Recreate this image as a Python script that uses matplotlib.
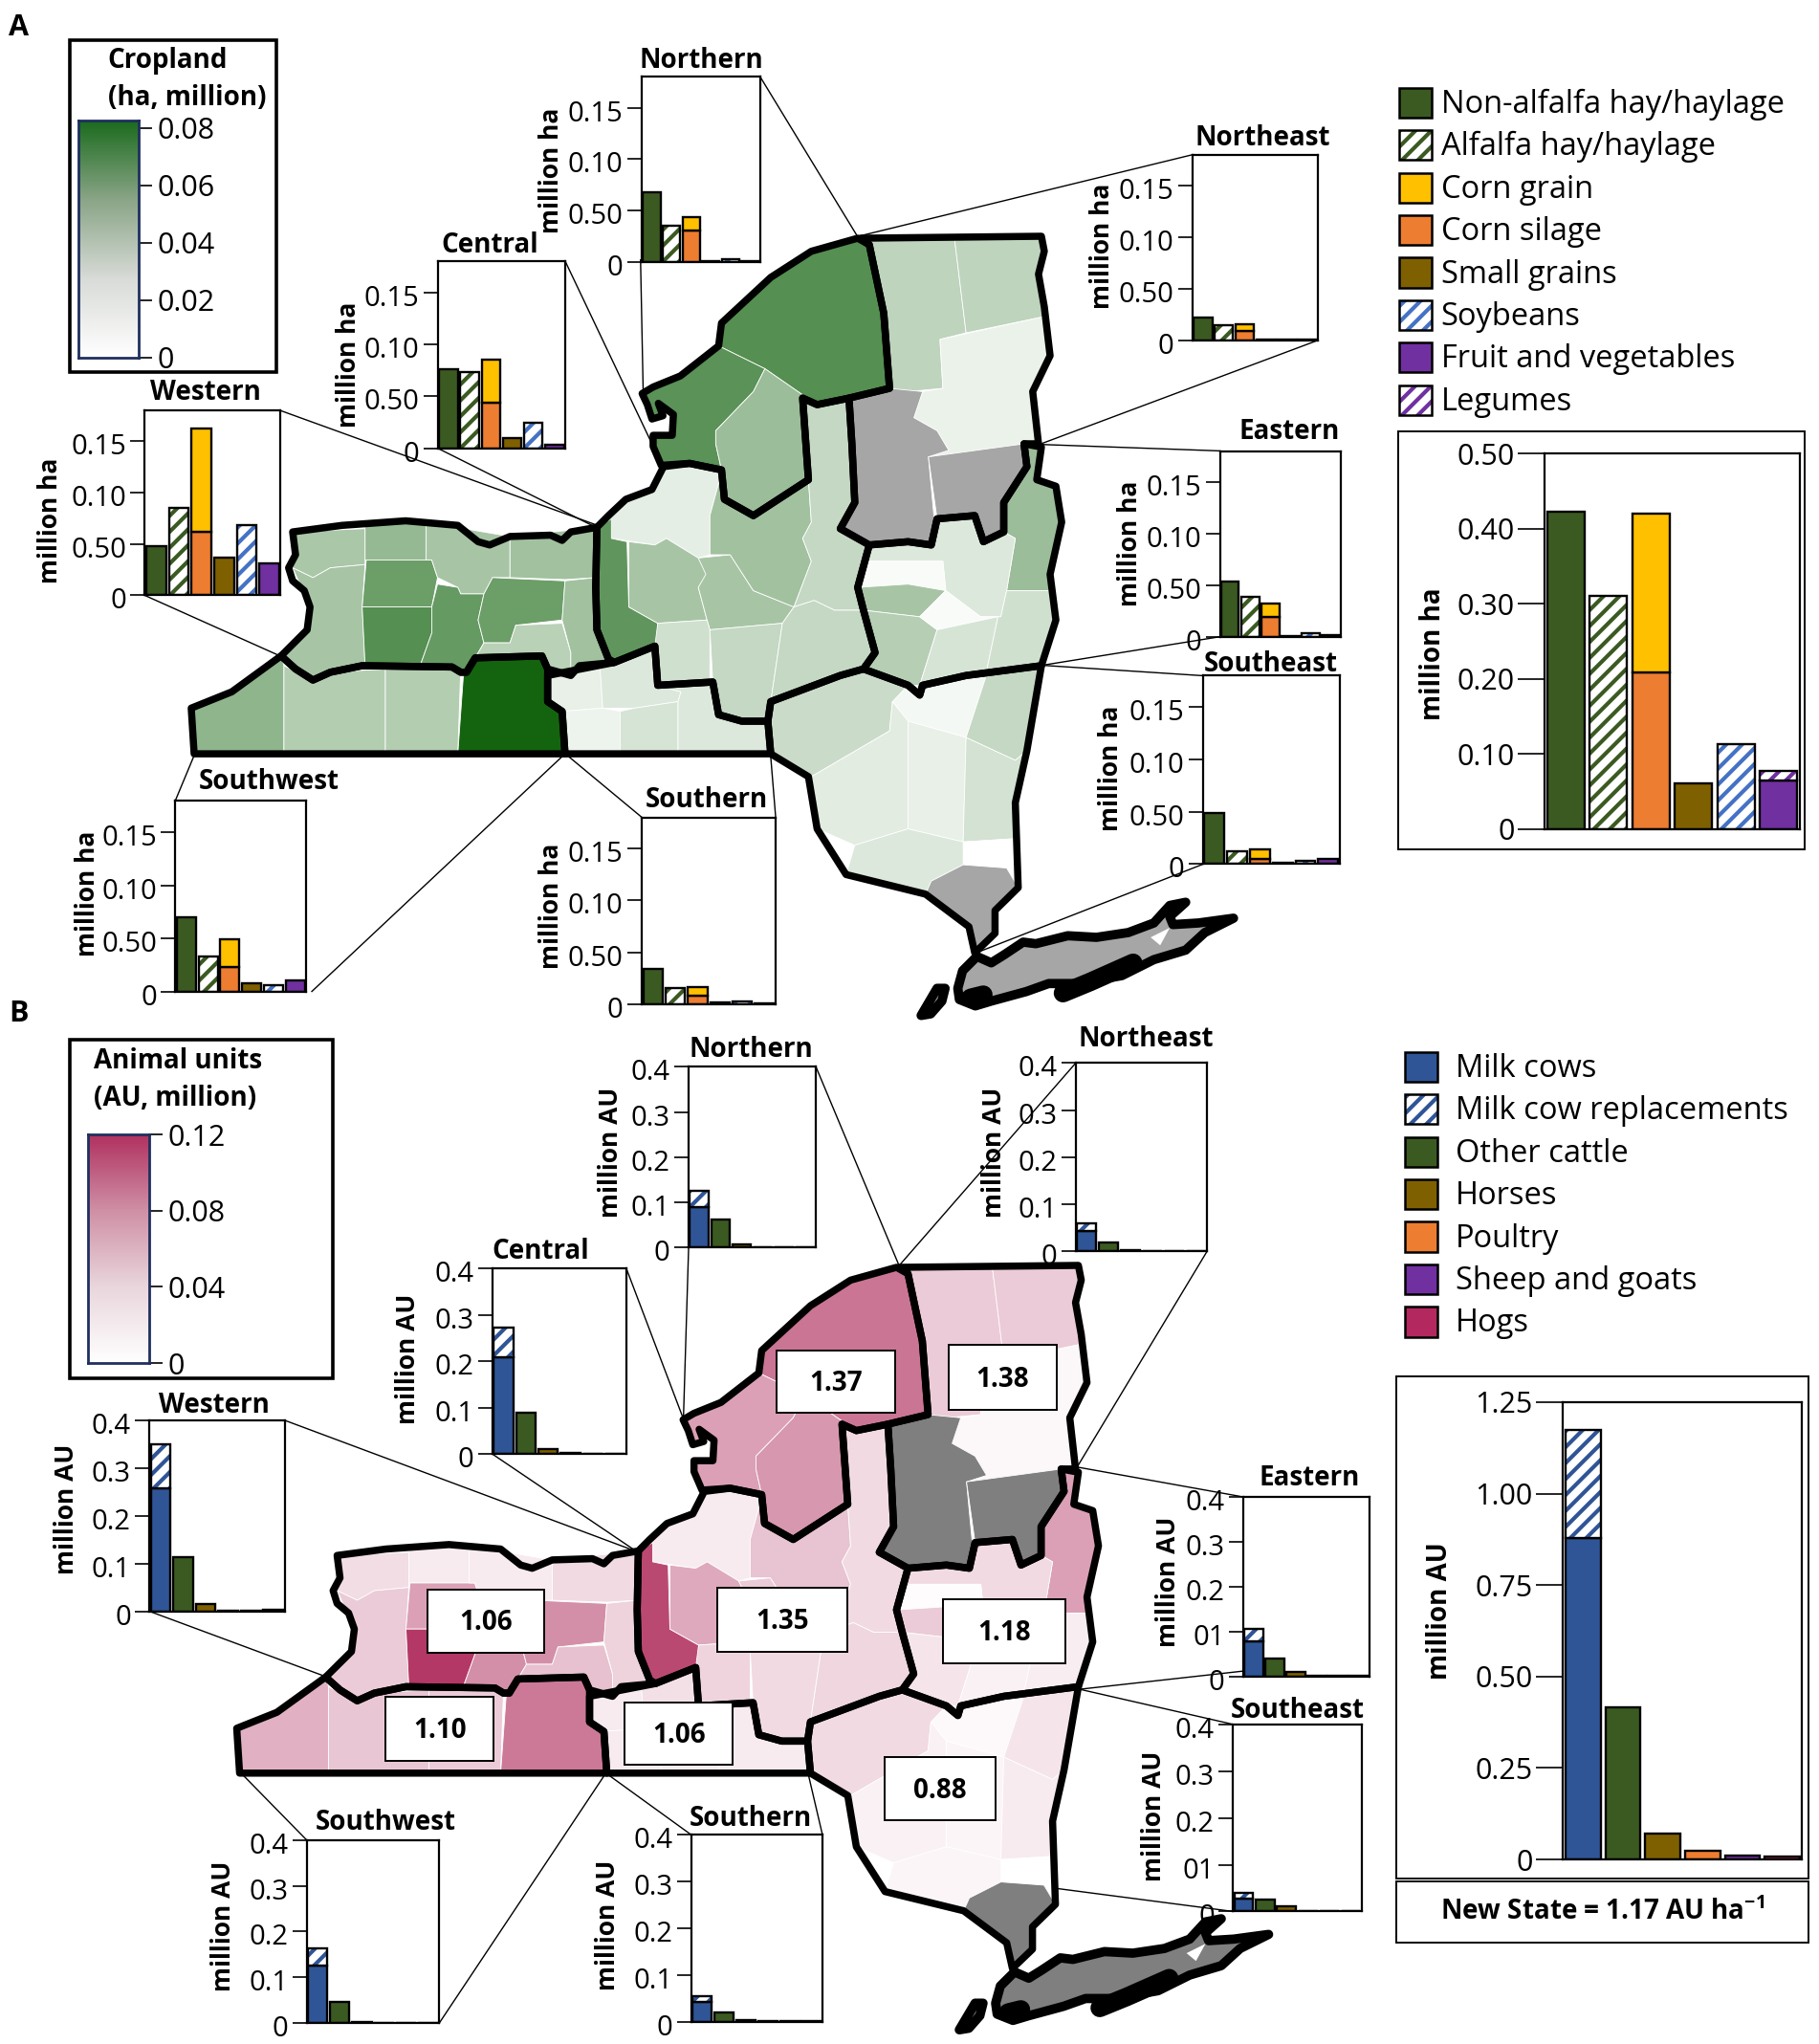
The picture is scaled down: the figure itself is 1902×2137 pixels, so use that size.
import numpy as np
import matplotlib
matplotlib.use('Agg')
import matplotlib.pyplot as plt
from matplotlib.colors import LinearSegmentedColormap
from matplotlib.patches import Polygon, Rectangle
from matplotlib.transforms import ScaledTranslation

plt.rcParams['font.family'] = ['Open Sans', 'DejaVu Sans']
plt.rcParams['mathtext.default'] = 'regular'
plt.rcParams['hatch.linewidth'] = 3.0

W, H = 1400, 1573

# crop area, million ha: non-alfalfa, alfalfa, silage, grain, small grains, soybeans, fruit/veg, legumes
crop_northern = [0.068, 0.036, 0.031, 0.013, 0.001, 0.003, 0.001, 0]
crop_central = [0.076, 0.073, 0.044, 0.041, 0.010, 0.025, 0.003, 0]
crop_western = [0.048, 0.085, 0.062, 0.101, 0.037, 0.068, 0.031, 0]
crop_southwest = [0.070, 0.033, 0.023, 0.026, 0.008, 0.006, 0.010, 0]
crop_southern = [0.034, 0.016, 0.008, 0.009, 0.002, 0.003, 0.001, 0]
crop_northeast = [0.022, 0.015, 0.009, 0.007, 0.001, 0.001, 0.001, 0]
crop_eastern = [0.054, 0.039, 0.019, 0.013, 0.001, 0.003, 0.002, 0]
crop_southeast = [0.049, 0.012, 0.005, 0.009, 0.001, 0.003, 0.005, 0]
crop_state = [0.422, 0.310, 0.209, 0.211, 0.061, 0.113, 0.064, 0.014]

# animal units, million: milk cows, replacements, other cattle, horses, poultry, sheep, hogs
au_northern = [0.090, 0.036, 0.061, 0.006, 0.001, 0.001, 0.001]
au_central = [0.208, 0.064, 0.088, 0.011, 0.003, 0.001, 0.001]
au_western = [0.257, 0.092, 0.114, 0.015, 0.001, 0.002, 0.003]
au_southwest = [0.126, 0.037, 0.047, 0.003, 0.001, 0.001, 0.001]
au_southern = [0.042, 0.014, 0.021, 0.003, 0.001, 0.001, 0.001]
au_northeast = [0.044, 0.015, 0.018, 0.002, 0.001, 0.001, 0.001]
au_eastern = [0.077, 0.028, 0.039, 0.010, 0.001, 0.001, 0.001]
au_southeast = [0.028, 0.011, 0.025, 0.012, 0.001, 0.001, 0.001]
au_state = [0.879, 0.294, 0.416, 0.070, 0.023, 0.011, 0.009]

crop_ticks = [0, 0.05, 0.10, 0.15]
crop_ticklabels = ['0', '0.50', '0.10', '0.15']
state_crop_ticks = [0, 0.1, 0.2, 0.3, 0.4, 0.5]
state_crop_ticklabels = ['0', '0.10', '0.20', '0.30', '0.40', '0.50']
au_ticks = [0, 0.1, 0.2, 0.3, 0.4]
au_ticklabels = ['0', '0.1', '0.2', '0.3', '0.4']
au_ticklabels_typo = ['0', '01', '0.2', '0.3', '0.4']
state_au_ticks = [0, 0.25, 0.5, 0.75, 1.0, 1.25]
state_au_ticklabels = ['0', '0.25', '0.50', '0.75', '1.00', '1.25']

crop_legend = ['Non-alfalfa hay/haylage', 'Alfalfa hay/haylage', 'Corn grain', 'Corn silage',
               'Small grains', 'Soybeans', 'Fruit and vegetables', 'Legumes']
au_legend = ['Milk cows', 'Milk cow replacements', 'Other cattle', 'Horses', 'Poultry',
             'Sheep and goats', 'Hogs']

GREEN, GOLD, ORANGE = '#3b5a21', '#ffc000', '#ed7d31'
BROWN, BLUE, PURPLE, HOG = '#7f6000', '#4472c4', '#7030a0', '#b3295f'
MILK = '#2f5597'

# county outlines (traced from the map) with crop and animal density, None = no data (grey)
counties = [
    ([(505, 815), (630, 810), (630, 865), (570, 870), (540, 885), (505, 870)], 0.029, 0.020),
    ([(540, 885), (570, 870), (630, 865), (625, 930), (630, 1020), (570, 1030), (540, 1042), (485, 1005), (530, 965), (535, 930), (505, 870)], 0.030, 0.030),
    ([(630, 805), (735, 800), (735, 858), (630, 858)], 0.036, 0.012),
    ([(632, 858), (745, 858), (755, 885), (745, 930), (625, 930)], 0.050, 0.055),
    ([(625, 930), (745, 930), (745, 970), (725, 1020), (630, 1020)], 0.058, 0.115),
    ([(735, 800), (880, 822), (880, 885), (850, 885), (835, 910), (795, 910), (790, 900), (755, 885), (745, 858), (735, 858)], 0.030, 0.012),
    ([(755, 895), (790, 900), (795, 910), (835, 910), (825, 950), (835, 985), (820, 1008), (800, 1030), (725, 1020), (745, 970), (745, 930)], 0.052, 0.065),
    ([(850, 885), (975, 890), (970, 950), (890, 958), (880, 985), (835, 985), (825, 950), (835, 910)], 0.050, 0.065),
    ([(880, 822), (1030, 808), (1028, 885), (975, 888), (880, 885)], 0.032, 0.022),
    ([(890, 958), (970, 955), (985, 1000), (985, 1035), (945, 1025), (935, 1005), (820, 1008), (835, 985), (880, 985)], 0.024, 0.036),
    ([(975, 890), (1028, 885), (1030, 965), (1060, 1015), (1000, 1020), (985, 1035), (985, 1000), (970, 950)], 0.032, 0.026),
    ([(485, 1005), (490, 1020), (490, 1155), (335, 1155), (330, 1085), (400, 1060)], 0.038, 0.045),
    ([(490, 1020), (540, 1042), (570, 1030), (665, 1025), (665, 1155), (490, 1155)], 0.026, 0.033),
    ([(665, 1025), (795, 1025), (790, 1155), (665, 1155)], 0.026, 0.030),
    ([(800, 1030), (820, 1008), (935, 1005), (945, 1025), (945, 1075), (970, 1090), (975, 1155), (790, 1155)], 0.080, 0.078),
    ([(945, 1025), (985, 1035), (1000, 1020), (1035, 1015), (1040, 1085), (970, 1090), (945, 1078)], 0.008, 0.012),
    ([(1035, 1015), (1130, 990), (1135, 1050), (1175, 1060), (1170, 1075), (1095, 1085), (1040, 1085)], 0.012, 0.018),
    ([(970, 1090), (1040, 1085), (1070, 1090), (1070, 1155), (975, 1155)], 0.006, 0.012),
    ([(1070, 1090), (1095, 1085), (1170, 1075), (1170, 1155), (1070, 1155)], 0.014, 0.012),
    ([(1135, 1050), (1230, 1045), (1240, 1095), (1280, 1105), (1325, 1105), (1330, 1155), (1170, 1155), (1170, 1075), (1175, 1060)], 0.012, 0.012),
    ([(1050, 790), (1080, 765), (1125, 750), (1145, 715), (1190, 710), (1245, 725), (1225, 790), (1225, 850), (1205, 855), (1150, 825), (1130, 835), (1055, 825)], 0.009, 0.012),
    ([(1030, 808), (1055, 795), (1055, 825), (1082, 830), (1085, 930), (1135, 955), (1135, 990), (1060, 1015), (1050, 1010), (1030, 965), (1028, 900)], 0.054, 0.105),
    ([(1085, 830), (1130, 835), (1150, 825), (1205, 855), (1220, 880), (1205, 900), (1220, 950), (1135, 955), (1085, 930)], 0.030, 0.050),
    ([(1205, 855), (1260, 850), (1300, 905), (1370, 930), (1350, 955), (1225, 965), (1220, 950), (1205, 900), (1218, 880)], 0.030, 0.030),
    ([(1225, 790), (1245, 725), (1250, 765), (1300, 790), (1395, 735), (1400, 800), (1385, 825), (1400, 860), (1370, 930), (1300, 905), (1260, 850), (1225, 850)], 0.032, 0.035),
    ([(1385, 610), (1410, 620), (1465, 610), (1470, 680), (1475, 770), (1450, 810), (1500, 835), (1480, 900), (1490, 935), (1440, 935), (1405, 920), (1370, 930), (1400, 860), (1385, 825), (1400, 800), (1395, 735)], 0.020, 0.022),
    ([(1135, 955), (1220, 950), (1225, 965), (1225, 1045), (1135, 1050), (1130, 990)], 0.016, 0.025),
    ([(1225, 965), (1350, 955), (1330, 1075), (1325, 1105), (1280, 1105), (1240, 1095), (1230, 1045)], 0.020, 0.022),
    ([(1370, 930), (1405, 920), (1440, 935), (1490, 935), (1510, 1000), (1490, 1025), (1450, 1035), (1330, 1075), (1350, 955)], 0.020, 0.024),
    ([(1240, 530), (1245, 495), (1330, 425), (1400, 385), (1480, 365), (1500, 375), (1525, 480), (1535, 595), (1465, 610), (1410, 620), (1385, 605), (1320, 565)], 0.058, 0.080),
    ([(1108, 603), (1127, 593), (1174, 576), (1240, 530), (1320, 565), (1300, 600), (1235, 660), (1235, 680), (1245, 720), (1190, 710), (1141, 713), (1127, 684), (1127, 667), (1160, 667), (1162, 635), (1136, 618), (1144, 637), (1125, 642), (1117, 620)], 0.056, 0.055),
    ([(1320, 565), (1385, 605), (1395, 735), (1300, 790), (1250, 765), (1245, 720), (1235, 680), (1235, 660), (1300, 600)], 0.034, 0.060),
    ([(1485, 365), (1647, 365), (1667, 510), (1622, 520), (1627, 595), (1567, 600), (1535, 595), (1525, 480), (1500, 375)], 0.022, 0.030),
    ([(1647, 365), (1797, 362), (1802, 385), (1792, 420), (1802, 485), (1667, 510)], 0.022, 0.030),
    ([(1622, 520), (1802, 485), (1812, 545), (1782, 600), (1792, 680), (1602, 700), (1637, 690), (1617, 660), (1577, 640), (1592, 600), (1627, 595)], 0.007, 0.005),
    ([(1465, 610), (1535, 595), (1592, 600), (1577, 640), (1617, 660), (1637, 690), (1602, 700), (1612, 795), (1607, 835), (1500, 835), (1450, 810), (1475, 770), (1470, 680)], None, None),
    ([(1602, 700), (1767, 680), (1772, 715), (1732, 770), (1732, 815), (1697, 830), (1682, 790), (1617, 795)], None, None),
    ([(1767, 680), (1797, 685), (1789, 735), (1822, 745), (1832, 800), (1812, 905), (1737, 905), (1752, 825), (1732, 815), (1732, 770), (1772, 715)], 0.034, 0.055),
    ([(1500, 835), (1607, 835), (1617, 795), (1682, 790), (1697, 830), (1732, 815), (1752, 825), (1737, 905), (1727, 945), (1692, 945), (1632, 905), (1627, 860), (1490, 860)], 0.012, 0.022),
    ([(1490, 860), (1627, 860), (1632, 905), (1567, 895), (1480, 900)], 0.002, 0.002),
    ([(1480, 900), (1567, 895), (1632, 905), (1587, 945), (1490, 935)], 0.030, 0.030),
    ([(1490, 935), (1587, 945), (1617, 965), (1587, 1050), (1567, 1050), (1490, 1025), (1510, 1000)], 0.025, 0.015),
    ([(1632, 905), (1692, 945), (1722, 945), (1617, 965), (1587, 945)], 0.002, 0.010),
    ([(1617, 965), (1722, 945), (1702, 1030), (1592, 1050), (1587, 1050)], 0.014, 0.008),
    ([(1737, 905), (1812, 905), (1822, 950), (1797, 1020), (1702, 1030), (1722, 945), (1727, 945)], 0.016, 0.010),
    ([(1567, 1050), (1587, 1065), (1592, 1050), (1667, 1035), (1702, 1035), (1667, 1130), (1567, 1105), (1540, 1075)], 0.004, 0.004),
    ([(1702, 1035), (1797, 1020), (1772, 1150), (1752, 1165), (1667, 1130)], 0.020, 0.015),
    ([(1330, 1075), (1450, 1035), (1490, 1025), (1567, 1050), (1540, 1075), (1535, 1120), (1400, 1190), (1395, 1190), (1330, 1155), (1325, 1105)], 0.018, 0.022),
    ([(1400, 1190), (1535, 1120), (1540, 1075), (1567, 1105), (1567, 1270), (1475, 1295), (1410, 1270)], 0.010, 0.008),
    ([(1567, 1105), (1667, 1130), (1662, 1290), (1567, 1270)], 0.008, 0.006),
    ([(1667, 1130), (1752, 1165), (1772, 1150), (1752, 1230), (1752, 1285), (1662, 1290)], 0.015, 0.012),
    ([(1662, 1290), (1752, 1285), (1757, 1330), (1662, 1325)], 0.0, 0.0),
    ([(1475, 1295), (1567, 1270), (1662, 1290), (1662, 1325), (1607, 1350), (1597, 1370), (1460, 1340)], 0.012, 0.006),
    ([(1597, 1370), (1607, 1350), (1662, 1325), (1737, 1330), (1757, 1360), (1717, 1395), (1717, 1430), (1682, 1460), (1672, 1420)], None, None),
]

regions = [
    [(505, 815), (590, 805), (700, 798), (790, 805), (825, 830), (845, 835), (880, 822), (950, 820), (970, 828), (985, 815), (1030, 808), (1028, 900), (1030, 965), (1050, 1010), (1060, 1015), (1000, 1020), (985, 1035), (945, 1025), (935, 1005), (820, 1008), (805, 1030), (795, 1030), (780, 1022), (625, 1020), (570, 1030), (540, 1042), (510, 1025), (485, 1005), (530, 965), (535, 930), (525, 905), (505, 890), (498, 870), (510, 850)],
    [(330, 1085), (400, 1060), (485, 1005), (510, 1025), (540, 1042), (570, 1030), (625, 1020), (780, 1022), (795, 1030), (805, 1030), (820, 1008), (935, 1005), (945, 1025), (945, 1075), (970, 1090), (975, 1155), (335, 1155)],
    [(945, 1035), (1060, 1015), (1130, 990), (1135, 1050), (1230, 1045), (1240, 1095), (1280, 1105), (1325, 1105), (1330, 1155), (975, 1155), (970, 1090), (945, 1075)],
    [(1030, 808), (1050, 790), (1080, 765), (1125, 750), (1145, 715), (1190, 710), (1245, 720), (1250, 765), (1300, 790), (1395, 735), (1385, 610), (1410, 620), (1465, 610), (1470, 680), (1475, 770), (1450, 810), (1500, 835), (1480, 900), (1490, 935), (1510, 1000), (1490, 1025), (1450, 1035), (1330, 1075), (1325, 1105), (1280, 1105), (1240, 1095), (1230, 1045), (1135, 1050), (1130, 990), (1060, 1015), (1050, 1010), (1030, 965), (1028, 900)],
    [(1108, 603), (1127, 593), (1174, 576), (1240, 530), (1245, 495), (1330, 425), (1400, 385), (1480, 365), (1500, 375), (1525, 480), (1535, 595), (1465, 610), (1410, 620), (1385, 610), (1395, 735), (1300, 790), (1250, 765), (1245, 720), (1190, 710), (1141, 713), (1127, 684), (1127, 667), (1160, 667), (1162, 635), (1136, 618), (1144, 637), (1125, 642), (1117, 620)],
    [(1485, 365), (1797, 362), (1802, 385), (1792, 420), (1802, 470), (1812, 545), (1782, 600), (1792, 680), (1767, 680), (1772, 715), (1732, 770), (1732, 815), (1697, 830), (1682, 790), (1617, 795), (1607, 835), (1567, 830), (1500, 835), (1450, 810), (1475, 770), (1470, 680), (1465, 610), (1535, 595), (1525, 480), (1500, 375)],
    [(1767, 680), (1797, 685), (1789, 735), (1822, 745), (1832, 800), (1812, 880), (1822, 950), (1797, 1020), (1667, 1035), (1592, 1050), (1587, 1065), (1567, 1050), (1490, 1025), (1510, 1000), (1490, 935), (1480, 900), (1500, 835), (1567, 830), (1607, 835), (1617, 795), (1682, 790), (1697, 830), (1732, 815), (1732, 770), (1772, 715)],
    [(1330, 1075), (1450, 1035), (1490, 1025), (1567, 1050), (1587, 1065), (1592, 1050), (1667, 1035), (1797, 1020), (1772, 1150), (1752, 1230), (1757, 1360), (1717, 1395), (1717, 1430), (1682, 1460), (1672, 1420), (1597, 1370), (1460, 1340), (1410, 1270), (1395, 1190), (1330, 1155), (1325, 1105)],
]


def crop_to_map(pts):
    # points traced on a 3x crop of the island area, same units as the county outlines
    return [((940 + x / 3) * 1.65, (900 + y / 3) * 1.4655) for x, y in pts]


long_island = crop_to_map([(185, 400), (200, 345), (245, 300), (290, 320), (330, 295), (390, 255), (430, 260), (530, 235), (620, 240), (720, 225), (800, 195), (850, 140), (900, 130), (850, 175), (860, 200), (940, 195), (1050, 180), (960, 225), (900, 280), (800, 310), (700, 360), (560, 385), (470, 385), (400, 410), (290, 440), (240, 455), (190, 435)])
peconic_bay = crop_to_map([(790, 240), (850, 210), (820, 265)])
fire_island = crop_to_map([(515, 415), (600, 380), (735, 320)])
jamaica_bay = crop_to_map([(225, 430), (265, 420)])
staten_island = crop_to_map([(70, 485), (120, 400), (145, 400), (135, 440), (100, 480)])

fig = plt.figure(figsize=(19.02, 21.37), dpi=100)
base = fig.add_axes([0, 0, 1, 1])
base.set_xlim(0, W)
base.set_ylim(H, 0)
base.axis('off')


def map_a(pts):
    p = np.array(pts, dtype=float)
    return np.c_[p[:, 0] / 2.242, p[:, 1] / 1.991]


def map_b(pts):
    p = map_a(pts)
    return np.c_[183 + (p[:, 0] - 148) * 0.99, 974 + (p[:, 1] - 182) * 0.981]


def draw_map(to_xy, col, cmap, vmax, grey):
    for c in counties:
        v = c[col]
        color = grey if v is None else cmap(v / vmax)
        base.add_patch(Polygon(to_xy(c[0]), closed=True, facecolor=color, edgecolor='white', lw=0.6, zorder=1))
    for r in regions:
        base.add_patch(Polygon(to_xy(r), closed=True, fill=False, edgecolor='black', lw=5.4, joinstyle='round', zorder=3))
    for island in (long_island, staten_island):
        base.add_patch(Polygon(to_xy(island), closed=True, facecolor=grey, edgecolor='black', lw=7, joinstyle='round', zorder=3))
    base.add_patch(Polygon(to_xy(peconic_bay), closed=True, facecolor='white', edgecolor='none', zorder=3))
    for line, lw in ((fire_island, 14), (jamaica_bay, 14)):
        xy = to_xy(line)
        base.plot(xy[:, 0], xy[:, 1], color='black', lw=lw, solid_capstyle='round', zorder=3)


def inset(box, ymax, ticks, labels, fs=21, drop=3):
    x0, y0, x1, y1 = box
    ax = fig.add_axes([x0 / W, 1 - y1 / H, (x1 - x0) / W, (y1 - y0) / H], zorder=5)
    ax.set_xlim(-0.5, 5.5)
    ax.set_ylim(0, ymax)
    ax.set_xticks([])
    ax.set_yticks(ticks)
    ax.set_yticklabels(labels, fontsize=fs)
    ax.tick_params(axis='y', length=11, width=1.2, pad=3)
    for s in ax.spines.values():
        s.set_linewidth(1.6)
    shift = ScaledTranslation(0, -drop / 100, fig.dpi_scale_trans)
    for t in ax.get_yticklabels():
        t.set_transform(t.get_transform() + shift)
    return ax


def solid(ax, x, h, bottom, color, lw=1.7):
    ax.bar(x, h, 0.88, bottom=bottom, color=color, edgecolor='black', linewidth=lw)


def striped(ax, x, h, bottom, color, lw=1.7):
    ax.bar(x, h, 0.88, bottom=bottom, facecolor='white', edgecolor=color, hatch='//', linewidth=0)
    ax.bar(x, h, 0.88, bottom=bottom, fill=False, edgecolor='black', linewidth=lw)


def crop_bars(ax, v):
    solid(ax, 0, v[0], 0, GREEN)
    striped(ax, 1, v[1], 0, GREEN)
    solid(ax, 2, v[2], 0, ORANGE)
    solid(ax, 2, v[3], v[2], GOLD)
    solid(ax, 3, v[4], 0, BROWN)
    striped(ax, 4, v[5], 0, BLUE)
    solid(ax, 5, v[6], 0, PURPLE)
    if v[7] > 0:
        striped(ax, 5, v[7], v[6], PURPLE)


def au_bars(ax, v):
    solid(ax, 0, v[0], 0, MILK)
    striped(ax, 0, v[1], v[0], MILK)
    solid(ax, 1, v[2], 0, GREEN)
    solid(ax, 2, v[3], 0, BROWN)
    solid(ax, 3, v[4], 0, ORANGE)
    solid(ax, 4, v[5], 0, PURPLE)
    solid(ax, 5, v[6], 0, HOG)


def swatch(x, y, color, hatched=False):
    w, h = 25, 23
    if hatched:
        base.add_patch(Rectangle((x, y - h / 2), w, h, facecolor='white', edgecolor=color, hatch='//', lw=0))
        base.add_patch(Rectangle((x, y - h / 2), w, h, fill=False, edgecolor='black', lw=1.8))
    else:
        base.add_patch(Rectangle((x, y - h / 2), w, h, facecolor=color, edgecolor='black', lw=1.8))


def label(x, y, s, fs=20, rot=0, weight='bold', ha='center'):
    base.text(x, y + 1.5, s, fontsize=fs, fontweight=weight, rotation=rot, ha=ha, va='center', zorder=6)


def colorbar(box, colors, vmax, ticks, labels):
    x0, y0, x1, y1 = box
    ax = fig.add_axes([x0 / W, 1 - y1 / H, (x1 - x0) / W, (y1 - y0) / H], zorder=5)
    cm = LinearSegmentedColormap.from_list('bar', colors)
    ax.imshow(np.linspace(1, 0, 256)[:, None], aspect='auto', cmap=cm, extent=[0, 1, 0, vmax])
    ax.set_xticks([])
    ax.yaxis.tick_right()
    ax.set_yticks(ticks)
    ax.set_yticklabels(labels, fontsize=22)
    ax.tick_params(axis='y', length=10, width=1.2, pad=4)
    for s in ax.spines.values():
        s.set_linewidth(2)
        s.set_edgecolor('#1f2f5f')


def connect(segments):
    for a, b in segments:
        base.plot([a[0], b[0]], [a[1], b[1]], color='black', lw=1.0, zorder=4)


# panel A
green_map = LinearSegmentedColormap.from_list('g', ['#ffffff', '#14640f'])
draw_map(map_a, 1, green_map, 0.08, '#a6a6a6')

connect([((585, 59), (660, 182)), ((493, 200), (495, 300)),
         ((435, 201), (502, 342)), ((337, 345), (459, 406)),
         ((216, 316), (459, 404)), ((111, 458), (216, 505)),
         ((135, 616), (150, 580)), ((240, 763), (435, 580)),
         ((494, 629), (435, 580)), ((597, 629), (593, 580)),
         ((918, 119), (660, 182)), ((1014, 262), (800, 342)),
         ((939, 347), (800, 342)), ((939, 490), (802, 512)),
         ((926, 520), (802, 512)), ((926, 665), (752, 733))])

crop_panels = [
    ('Northern', crop_northern, (494, 59, 585, 202), (540, 45), (424, 130)),
    ('Central', crop_central, (337, 201, 435, 345), (377, 187), (268, 279)),
    ('Western', crop_western, (111.5, 316, 216, 458), (158, 301), (39, 399)),
    ('Southwest', crop_southwest, (135, 616, 235.5, 763), (207, 600), (67, 686)),
    ('Southern', crop_southern, (494, 629, 597, 773), (544, 614), (424, 696)),
    ('Northeast', crop_northeast, (918, 119, 1014, 262), (972, 105), (848, 188)),
    ('Eastern', crop_eastern, (939, 347.5, 1032, 490), (992, 331), (870, 417)),
    ('Southeast', crop_southeast, (926, 520, 1031, 665), (978, 510), (855, 590)),
]
for name, vals, box, tpos, ypos in crop_panels:
    ax = inset(box, 0.18, crop_ticks, crop_ticklabels)
    crop_bars(ax, vals)
    label(tpos[0], tpos[1], name)
    label(ypos[0], ypos[1], 'million ha', fs=19, rot=90)

base.add_patch(Rectangle((1076, 332), 313, 322, fill=False, edgecolor='black', lw=1.4))
ax = inset((1189, 349, 1385, 638), 0.5, state_crop_ticks, state_crop_ticklabels, fs=22, drop=8)
ax.tick_params(axis='y', length=20)
crop_bars(ax, crop_state)
label(1318, 365, 'New York', fs=21)
label(1318, 395, 'State', fs=21)
label(1103, 502, 'million ha', fs=20, rot=90)

base.add_patch(Rectangle((53.5, 31), 159, 255, fill=False, edgecolor='black', lw=2.6))
label(83, 45, 'Cropland', ha='left')
label(83, 74, '(ha, million)', ha='left')
colorbar((60, 93, 107, 275), ['#ffffff', '#d8dbd7', '#8aa587', '#1b6b1e'], 0.0825,
         [0, 0.02, 0.04, 0.06, 0.08], ['0', '0.02', '0.04', '0.06', '0.08'])

crop_colors = [(GREEN, False), (GREEN, True), (GOLD, False), (ORANGE, False), (BROWN, False),
               (BLUE, True), (PURPLE, False), (PURPLE, True)]
for i, (name, c) in enumerate(zip(crop_legend, crop_colors)):
    y = 79 + i * 32.7
    swatch(1077, y, c[0], c[1])
    label(1109, y, name, fs=23.5, weight='normal', ha='left')

label(14, 20, 'A', fs=22)

# panel B
pink_map = LinearSegmentedColormap.from_list('p', ['#ffffff', '#b0305f'])
draw_map(map_b, 2, pink_map, 0.12, '#7f7f7f')

connect([((628, 821), (692, 974)), ((530, 960), (526, 1092)),
         ((482, 976), (526, 1092)), ((379, 1119), (490, 1194)),
         ((219, 1093), (490, 1194)), ((115, 1240), (250, 1290)),
         ((236, 1416), (186, 1365)), ((338, 1557), (466, 1365)),
         ((532, 1412), (467, 1365)), ((633, 1412), (622, 1365)),
         ((828, 818), (692, 974)), ((929, 963), (829, 1129)),
         ((957, 1152), (829, 1129)), ((957, 1286), (831, 1300)),
         ((949, 1327), (831, 1300)), ((949, 1471), (811, 1453))])

au_panels = [
    ('Northern', au_northern, (530, 821, 628, 960), (578, 806), (470, 885), au_ticklabels),
    ('Central', au_central, (379, 976, 482, 1119), (416, 962), (314, 1044), au_ticklabels),
    ('Western', au_western, (115, 1093, 219, 1240), (165, 1080), (51, 1160), au_ticklabels),
    ('Southwest', au_southwest, (236, 1416, 338, 1557), (297, 1401), (172, 1481), au_ticklabels),
    ('Southern', au_southern, (532, 1412, 633, 1556), (578, 1398), (468, 1480), au_ticklabels),
    ('Northeast', au_northeast, (828, 818, 929, 963), (882, 798), (765, 885), au_ticklabels),
    ('Eastern', au_eastern, (957, 1152, 1054, 1290), (1008, 1136), (899, 1216), au_ticklabels_typo),
    ('Southeast', au_southeast, (949, 1327, 1048, 1471), (999, 1315), (888, 1396), au_ticklabels_typo),
]
for name, vals, box, tpos, ypos, labs in au_panels:
    ax = inset(box, 0.4, au_ticks, labs)
    au_bars(ax, vals)
    label(tpos[0], tpos[1], name)
    label(ypos[0], ypos[1], 'million AU', fs=19, rot=90)

for x0, y0, x1, y1, s in [(598, 1039, 689, 1087, '1.37'), (329, 1223, 419, 1272, '1.06'),
                          (552, 1222, 652, 1271, '1.35'), (297, 1306, 380, 1355, '1.10'),
                          (481, 1310, 564, 1358, '1.06'), (730, 1035, 813, 1085, '1.38'),
                          (726, 1231, 820, 1280, '1.18'), (681, 1352, 766, 1401, '0.88')]:
    base.add_patch(Rectangle((x0, y0), x1 - x0, y1 - y0, facecolor='white', edgecolor='black', lw=1.4, zorder=4))
    label((x0 + x1) / 2, (y0 + y1) / 2, s, fs=20)

base.add_patch(Rectangle((1075, 1059), 317, 387, fill=False, edgecolor='black', lw=1.4))
base.add_patch(Rectangle((1075, 1448), 317, 47, fill=False, edgecolor='black', lw=1.4))
ax = inset((1203, 1079, 1387, 1431), 1.25, state_au_ticks, state_au_ticklabels, fs=22, drop=2)
ax.tick_params(axis='y', length=20)
au_bars(ax, au_state)
label(1321, 1097, 'New York', fs=21)
label(1321, 1126, 'State', fs=21)
label(1108, 1238, 'million AU', fs=20, rot=90)
label(1233, 1470, 'New State = 1.17 AU ha$^{-1}$', fs=20)

base.add_patch(Rectangle((54, 800), 202, 261, fill=False, edgecolor='black', lw=2.6))
label(72, 815, 'Animal units', ha='left')
label(72, 844, '(AU, million)', ha='left')
colorbar((68, 873, 115, 1049), ['#ffffff', '#e9d6dc', '#cf8fa5', '#b0305f'], 0.12,
         [0, 0.04, 0.08, 0.12], ['0', '0.04', '0.08', '0.12'])

au_colors = [(MILK, False), (MILK, True), (GREEN, False), (BROWN, False), (ORANGE, False),
             (PURPLE, False), (HOG, False)]
for i, (name, c) in enumerate(zip(au_legend, au_colors)):
    y = 821 + i * 32.7
    swatch(1081, y, c[0], c[1])
    label(1120, y, name, fs=23.5, weight='normal', ha='left')

label(14, 779, 'B', fs=22)

fig.savefig('out.png', dpi=100)
